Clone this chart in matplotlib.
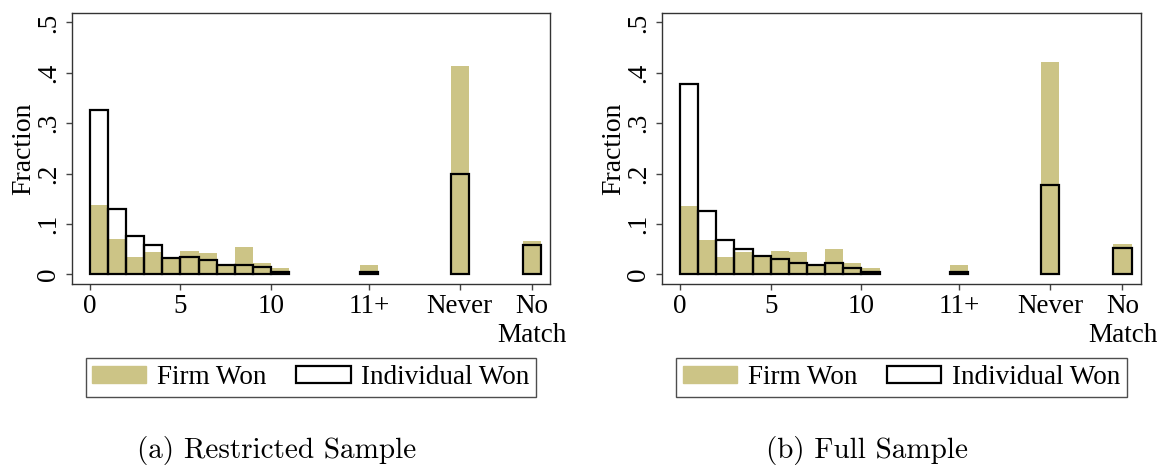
import matplotlib
matplotlib.use("Agg")
import matplotlib.pyplot as plt
from matplotlib.patches import Patch

# bin left edges: 0..10 days, then 11+, Never, No Match
bin_left = [0, 1, 2, 3, 4, 5, 6, 7, 8, 9, 10, 14.9, 19.9, 23.9]
tick_pos = [0, 5, 10, 15.4, 20.4, 24.4]
tick_labels = ['0', '5', '10', '11+', 'Never', 'No\nMatch']
y_ticks = [0, 0.1, 0.2, 0.3, 0.4, 0.5]
y_labels = ['0', '.1', '.2', '.3', '.4', '.5']

restricted_firm = [0.138, 0.071, 0.034, 0.044, 0.032, 0.046, 0.042, 0.019, 0.054, 0.022, 0.0125, 0.019, 0.414, 0.066]
restricted_indiv = [0.327, 0.129, 0.075, 0.058, 0.032, 0.034, 0.028, 0.019, 0.019, 0.014, 0.004, 0.005, 0.200, 0.058]
full_firm = [0.135, 0.069, 0.034, 0.045, 0.037, 0.047, 0.044, 0.021, 0.051, 0.023, 0.012, 0.018, 0.421, 0.061]
full_indiv = [0.378, 0.126, 0.069, 0.051, 0.036, 0.031, 0.022, 0.018, 0.023, 0.0125, 0.004, 0.005, 0.177, 0.053]

captions = ['(a) Restricted Sample', '(b) Full Sample']

khaki = '#ccc486'
serif = ['Liberation Serif', 'DejaVu Serif']
fs = 19.5

fig = plt.figure(figsize=(11.64, 4.69), dpi=100)
ax1 = fig.add_axes([0.0616, 0.3951, 0.4112, 0.5765])
ax2 = fig.add_axes([0.5687, 0.3951, 0.4112, 0.5765])

# (axes, firm, individual, caption x, legend x)
panels = [(ax1, restricted_firm, restricted_indiv, 0.2378, 0.2672),
          (ax2, full_firm, full_indiv, 0.7448, 0.7743)]

for i, (ax, firm, indiv, cx, lx) in enumerate(panels):
    ax.bar(bin_left, firm, width=1, align='edge', color=khaki, linewidth=0)
    ax.bar(bin_left, indiv, width=1, align='edge', fill=False,
           edgecolor='black', linewidth=1.6)
    ax.set_xlim(-1.0, 25.4)
    ax.set_ylim(-0.0187, 0.518)
    ax.set_xticks(tick_pos)
    ax.set_xticklabels(tick_labels, family=serif, fontsize=fs,
                       linespacing=1.2)
    ax.set_yticks(y_ticks)
    ax.set_yticklabels(y_labels, family=serif, fontsize=fs,
                       rotation=90, va='center')
    ax.tick_params(axis='both', direction='out', length=4.3, width=1,
                   color='#444444')
    ax.tick_params(axis='x', pad=3.2)
    ax.tick_params(axis='y', pad=3.5)
    for sp in ax.spines.values():
        sp.set_color('#333333')
        sp.set_linewidth(1)
    ax.set_ylabel('Fraction', family=serif, fontsize=20, labelpad=0)

    handles = [Patch(facecolor=khaki, edgecolor=khaki, label='Firm Won'),
               Patch(facecolor='white', edgecolor='black', linewidth=1.6,
                     label='Individual Won')]
    leg = ax.legend(handles=handles, loc='center', ncol=2,
                    bbox_to_anchor=(lx, 0.1951),
                    bbox_transform=fig.transFigure,
                    prop={'family': serif, 'size': fs},
                    frameon=True, fancybox=False, handlelength=2.0,
                    handleheight=0.55, handletextpad=0.4,
                    columnspacing=1.1, borderpad=0.25, borderaxespad=0)
    leg.get_frame().set_edgecolor('#222222')
    leg.get_frame().set_linewidth(1)

    fig.text(cx, 0.0405, captions[i], family='cmr10', fontsize=21,
             ha='center', va='center')

fig.savefig('out.png', dpi=100)
